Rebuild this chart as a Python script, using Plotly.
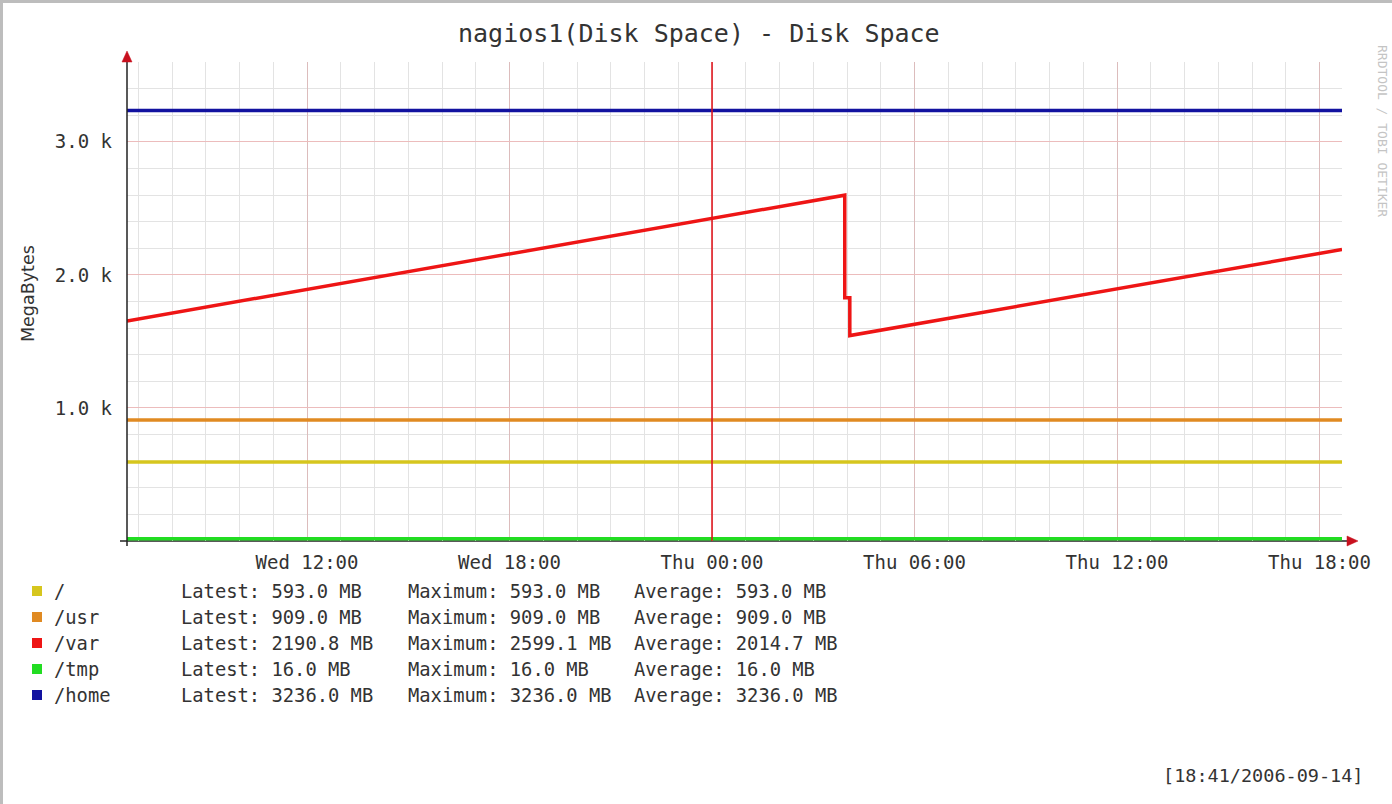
import plotly.graph_objects as go

# ---------------- data ----------------
series_names = ["/", "/usr", "/var", "/tmp", "/home"]
series_colors = ["#d6c61e", "#e08a22", "#ee1515", "#22dd22", "#1212a0"]

t_start = "2006-09-13 06:40"
t_end = "2006-09-14 18:40"

root_times = [t_start, t_end]
root_values = [593.0, 593.0]
usr_times = [t_start, t_end]
usr_values = [909.0, 909.0]
var_times = ["2006-09-13 06:40", "2006-09-14 03:56", "2006-09-14 03:56",
             "2006-09-14 04:05", "2006-09-14 04:05", "2006-09-14 18:40"]
var_values = [1654.0, 2599.1, 1829.0, 1829.0, 1544.0, 2190.8]
tmp_times = [t_start, t_end]
tmp_values = [16.0, 16.0]
home_times = [t_start, t_end]
home_values = [3236.0, 3236.0]

latest = [593.0, 909.0, 2190.8, 16.0, 3236.0]
maximum = [593.0, 909.0, 2599.1, 16.0, 3236.0]
average = [593.0, 909.0, 2014.7, 16.0, 3236.0]

x_tickvals = ["2006-09-13 12:00", "2006-09-13 18:00", "2006-09-14 00:00",
              "2006-09-14 06:00", "2006-09-14 12:00", "2006-09-14 18:00"]
x_ticktext = ["Wed 12:00", "Wed 18:00", "Thu 00:00", "Thu 06:00", "Thu 12:00", "Thu 18:00"]
y_tickvals = [1000, 2000, 3000]
y_ticktext = ["1.0 k", "2.0 k", "3.0 k"]
vrule_time = "2006-09-14 00:00"

title_text = "nagios1(Disk Space) - Disk Space"
y_title = "MegaBytes"
watermark = "RRDTOOL / TOBI OETIKER"
timestamp = "[18:41/2006-09-14]"

# ---------------- layout geometry ----------------
W, H = 1392, 804
L, R, T, B = 127, 1342, 62, 541
MONO = "DejaVu Sans Mono"
TXT = "#333333"


def px(x):
    return (x - L) / (R - L)


def py(y):
    return (B - y) / (B - T)


fig = go.Figure()

all_series = [
    (root_times, root_values),
    (usr_times, usr_values),
    (var_times, var_values),
    (tmp_times, tmp_values),
    (home_times, home_values),
]
for (xs, ys), name, col in zip(all_series, series_names, series_colors):
    fig.add_trace(go.Scatter(x=xs, y=ys, mode="lines", name=name,
                             line=dict(color=col, width=3.5), showlegend=False,
                             hoverinfo="skip"))

shapes = []
# vertical rule at Thu 00:00
shapes.append(dict(type="line", xref="x", yref="paper", x0=vrule_time, x1=vrule_time,
                   y0=0, y1=1, line=dict(color="#e01018", width=1.5), layer="above"))
# axes
shapes.append(dict(type="line", xref="paper", yref="paper", x0=px(127), x1=px(127),
                   y0=py(546), y1=py(56), line=dict(color="#222222", width=1.5), layer="above"))
shapes.append(dict(type="line", xref="paper", yref="paper", x0=px(120), x1=px(1350),
                   y0=py(541), y1=py(541), line=dict(color="#222222", width=1.5), layer="below"))
# arrows
shapes.append(dict(type="path", xref="paper", yref="paper",
                   path=f"M {px(127)},{py(51)} L {px(122)},{py(62)} L {px(132)},{py(62)} Z",
                   fillcolor="#c8101e", line=dict(color="#c8101e", width=0.5), layer="above"))
shapes.append(dict(type="path", xref="paper", yref="paper",
                   path=f"M {px(1358)},{py(541)} L {px(1347)},{py(536)} L {px(1347)},{py(546)} Z",
                   fillcolor="#c8101e", line=dict(color="#c8101e", width=0.5), layer="above"))
# frame borders (top & left)
shapes.append(dict(type="rect", xref="paper", yref="paper", x0=px(0), x1=px(W),
                   y0=py(0), y1=py(3), fillcolor="#bdbdbd", line=dict(width=0), layer="above"))
shapes.append(dict(type="rect", xref="paper", yref="paper", x0=px(0), x1=px(3),
                   y0=py(0), y1=py(H), fillcolor="#bdbdbd", line=dict(width=0), layer="above"))

annotations = []
# title
annotations.append(dict(text=title_text, xref="paper", yref="paper", x=px(699), y=py(33),
                        xanchor="center", yanchor="middle", showarrow=False,
                        font=dict(family=MONO, size=25, color=TXT)))
# y-axis title
annotations.append(dict(text=y_title, xref="paper", yref="paper", x=px(28), y=py(293),
                        xanchor="center", yanchor="middle", showarrow=False, textangle=-90,
                        font=dict(family="DejaVu Sans", size=17.5, color=TXT)))
# watermark
annotations.append(dict(text=watermark, xref="paper", yref="paper", x=px(1383), y=py(131),
                        xanchor="center", yanchor="middle", showarrow=False, textangle=90,
                        font=dict(family=MONO, size=13, color="#c4c4c4")))
# timestamp
annotations.append(dict(text=timestamp, xref="paper", yref="paper", x=px(1365), y=py(775),
                        xanchor="right", yanchor="middle", showarrow=False,
                        font=dict(family=MONO, size=18.5, color=TXT)))

# legend
row0, row_gap = 591, 26
for i, name in enumerate(series_names):
    yc = row0 + i * row_gap
    shapes.append(dict(type="rect", xref="paper", yref="paper",
                       x0=px(32), x1=px(42), y0=py(yc - 5), y1=py(yc + 5),
                       fillcolor=series_colors[i], line=dict(width=0), layer="above"))
    for xpos, txt in [(52, name),
                      (179, f"Latest: {latest[i]:.1f} MB"),
                      (406, f"Maximum: {maximum[i]:.1f} MB"),
                      (632, f"Average: {average[i]:.1f} MB")]:
        annotations.append(dict(text=txt, xref="paper", yref="paper", x=px(xpos), y=py(yc),
                                xanchor="left", yanchor="middle", showarrow=False,
                                font=dict(family=MONO, size=18.8, color=TXT)))

fig.update_layout(
    width=W, height=H, autosize=False,
    margin=dict(l=L, r=W - R, t=T, b=H - B, pad=0),
    paper_bgcolor="white", plot_bgcolor="white",
    showlegend=False,
    shapes=shapes, annotations=annotations,
    xaxis=dict(
        type="date", range=[t_start, t_end],
        tickmode="array", tickvals=x_tickvals, ticktext=x_ticktext,
        showgrid=True, gridcolor="#dcbcbc", gridwidth=1,
        zeroline=False, showline=False, ticks="",
        ticklabelstandoff=8,
        tickfont=dict(family=MONO, size=19, color=TXT),
        minor=dict(dtick=3600000, tick0="2006-09-13 00:00", showgrid=True,
                   gridcolor="#e3e3e3", gridwidth=1, ticks=""),
        fixedrange=True,
    ),
    yaxis=dict(
        range=[0, 3600],
        tickmode="array", tickvals=y_tickvals, ticktext=y_ticktext,
        showgrid=True, gridcolor="#ecbcbc", gridwidth=1,
        zeroline=False, showline=False, ticks="",
        ticklabelstandoff=14,
        tickfont=dict(family=MONO, size=19, color=TXT),
        minor=dict(dtick=200, tick0=0, showgrid=True, gridcolor="#e3e3e3",
                   gridwidth=1, ticks=""),
        fixedrange=True,
    ),
)

fig.write_html("out.html", config={"displayModeBar": False},
               post_script="document.body.style.margin='0px';document.body.style.overflow='hidden';")
